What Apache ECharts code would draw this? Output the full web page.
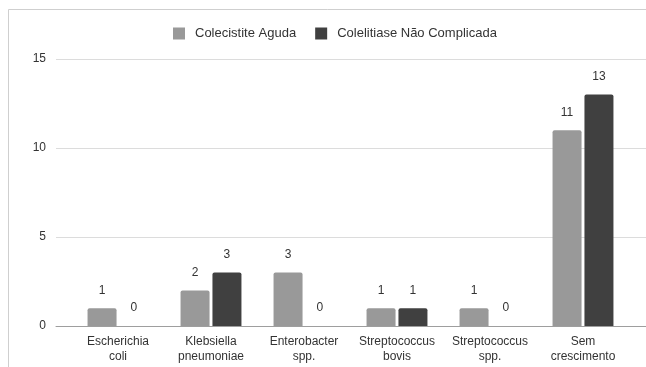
<!DOCTYPE html>
<html>
<head>
<meta charset="utf-8">
<script src="https://cdn.jsdelivr.net/npm/echarts@6/dist/echarts.min.js"></script>
<style>
  html, body { margin: 0; padding: 0; background: #fff; }
  #chart { width: 646px; height: 367px; }
</style>
</head>
<body>
<div id="chart"></div>
<script>
// Bacterial culture results by diagnosis group
const categories = [
  'Escherichia\ncoli',
  'Klebsiella\npneumoniae',
  'Enterobacter\nspp.',
  'Streptococcus\nbovis',
  'Streptococcus\nspp.',
  'Sem\ncrescimento'
];
const seriesNames = ['Colecistite Aguda', 'Colelitiase Não Complicada'];
const colecistiteAguda = [1, 2, 3, 1, 1, 11];
const colelitiaseNaoComplicada = [0, 3, 0, 1, 0, 13];
const yTicks = { min: 0, max: 15, interval: 5 };

const font = 'Liberation Sans, Arial, sans-serif';
const chart = echarts.init(document.getElementById('chart'), null, { renderer: 'canvas' });

const valueLabel = {
  show: true,
  position: 'top',
  distance: 12,
  color: '#333',
  fontFamily: font,
  fontSize: 12
};

chart.setOption({
  animation: false,
  backgroundColor: '#fff',
  color: ['#999999', '#404040'],
  textStyle: { fontFamily: font },
  legend: {
    top: 22,
    left: 168,
    itemWidth: 12,
    itemHeight: 12,
    itemGap: 19,
    icon: 'rect',
    textStyle: { color: '#333', fontSize: 13, fontFamily: font, padding: [0, 0, 0, 5] },
    data: seriesNames
  },
  graphic: [
    { type: 'line', shape: { x1: 8.5, y1: 9.5, x2: 646, y2: 9.5 }, style: { stroke: '#cfcfcf', lineWidth: 1 } },
    { type: 'line', shape: { x1: 8.5, y1: 9.5, x2: 8.5, y2: 367 }, style: { stroke: '#cfcfcf', lineWidth: 1 } }
  ],
  grid: [
    { left: 56, right: -20, top: 59, bottom: 41 },
    { left: 71.5, width: 558, top: 59, bottom: 41 }
  ],
  xAxis: [
    {
      gridIndex: 0, type: 'value', min: 0, max: 1,
      axisLine: { show: true, onZero: false, lineStyle: { color: '#9e9e9e', width: 1 } },
      axisTick: { show: false }, axisLabel: { show: false }, splitLine: { show: false }
    },
    {
      gridIndex: 1, type: 'category', data: categories,
      axisLine: { show: false }, axisTick: { show: false },
      axisLabel: { color: '#333', fontSize: 12, fontFamily: font, margin: 8, lineHeight: 15, interval: 0 }
    }
  ],
  yAxis: [
    {
      gridIndex: 0, type: 'value', min: yTicks.min, max: yTicks.max, interval: yTicks.interval,
      axisLine: { show: false }, axisTick: { show: false },
      axisLabel: { color: '#333', fontSize: 12, fontFamily: font, margin: 10 },
      splitLine: { lineStyle: { color: '#dcdcdc', width: 1 } }
    },
    {
      gridIndex: 1, type: 'value', min: yTicks.min, max: yTicks.max, interval: yTicks.interval,
      show: false
    }
  ],
  series: [
    {
      name: seriesNames[0], type: 'bar', xAxisIndex: 1, yAxisIndex: 1,
      data: colecistiteAguda, barWidth: 29, barGap: '10%',
      itemStyle: { borderRadius: [2, 2, 0, 0] },
      label: valueLabel
    },
    {
      name: seriesNames[1], type: 'bar', xAxisIndex: 1, yAxisIndex: 1,
      data: colelitiaseNaoComplicada, barWidth: 29, barGap: '10%',
      itemStyle: { borderRadius: [2, 2, 0, 0] },
      label: valueLabel
    }
  ]
});
</script>
</body>
</html>
